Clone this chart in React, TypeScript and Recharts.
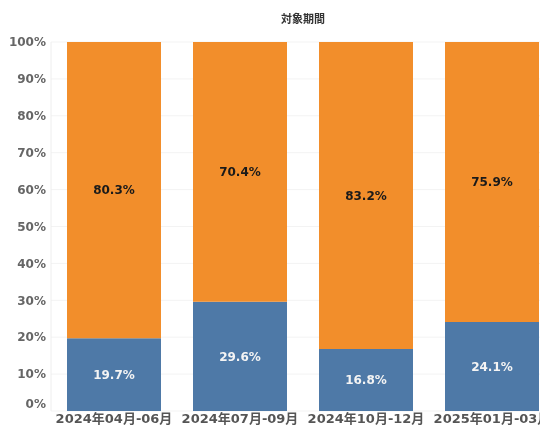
import { Bar, BarChart, CartesianGrid, LabelList, XAxis, YAxis } from "recharts";

const categories = ["2024年04月-06月", "2024年07月-09月", "2024年10月-12月", "2025年01月-03月"];
const blueValues = [19.7, 29.6, 16.8, 24.1];
const orangeValues = [80.3, 70.4, 83.2, 75.9];
const yTicks = [0, 10, 20, 30, 40, 50, 60, 70, 80, 90, 100];

const data = categories.map((period, i) => ({
  period,
  blue: blueValues[i],
  orange: orangeValues[i],
}));

const FONT = "'DejaVu Sans', 'Noto Sans CJK JP', sans-serif";

const YTick = (props: any) => {
  const { x, y, payload } = props;
  // the 0% label sits a bit above the baseline, like the original
  const shift = payload.value === 0 ? -7 : 0;
  return (
    <text
      x={x}
      y={y + shift}
      dy="0.355em"
      textAnchor="end"
      fill="#666"
      fontSize={12}
      fontWeight="bold"
      fontFamily={FONT}
    >
      {payload.value}%
    </text>
  );
};

const pct = (v: any) => `${Number(v).toFixed(1)}%`;

export default function App() {
  return (
    <div
      style={{
        position: "fixed",
        left: 8,
        top: 8,
        width: 532,
        height: 417,
        overflow: "hidden",
      }}
    >
      <div
        style={{
          position: "absolute",
          left: 0,
          width: 590,
          top: 2,
          textAlign: "center",
          fontFamily: "'Noto Sans CJK JP', sans-serif",
          fontWeight: "bold",
          fontSize: 11,
          color: "#333",
        }}
      >
        対象期間
      </div>
      <BarChart
        width={560}
        height={417}
        data={data}
        margin={{ top: 34, right: 13, bottom: 0, left: 0 }}
        barCategoryGap={16}
      >
        <CartesianGrid vertical={false} stroke="#f3f3f3" />
        <XAxis
          dataKey="period"
          height={14}
          tickSize={0}
          tickMargin={3}
          axisLine={false}
          tick={{ fill: "#555", fontSize: 13, fontWeight: "bold", fontFamily: FONT }}
          interval={0}
        />
        <YAxis
          width={43}
          domain={[0, 100]}
          ticks={yTicks}
          tickSize={0}
          tickMargin={5}
          axisLine={{ stroke: "#eeeeee" }}
          tick={<YTick />}
          interval={0}
        />
        <Bar dataKey="blue" stackId="a" fill="#4E79A7" isAnimationActive={false}>
          <LabelList
            dataKey="blue"
            position="center"
            formatter={pct}
            fill="#f4f4f4"
            fontSize={12}
            fontWeight="bold"
            fontFamily={FONT}
          />
        </Bar>
        <Bar dataKey="orange" stackId="a" fill="#F28E2B" isAnimationActive={false}>
          <LabelList
            dataKey="orange"
            position="center"
            formatter={pct}
            fill="#1a1a1a"
            fontSize={12}
            fontWeight="bold"
            fontFamily={FONT}
          />
        </Bar>
      </BarChart>
    </div>
  );
}
